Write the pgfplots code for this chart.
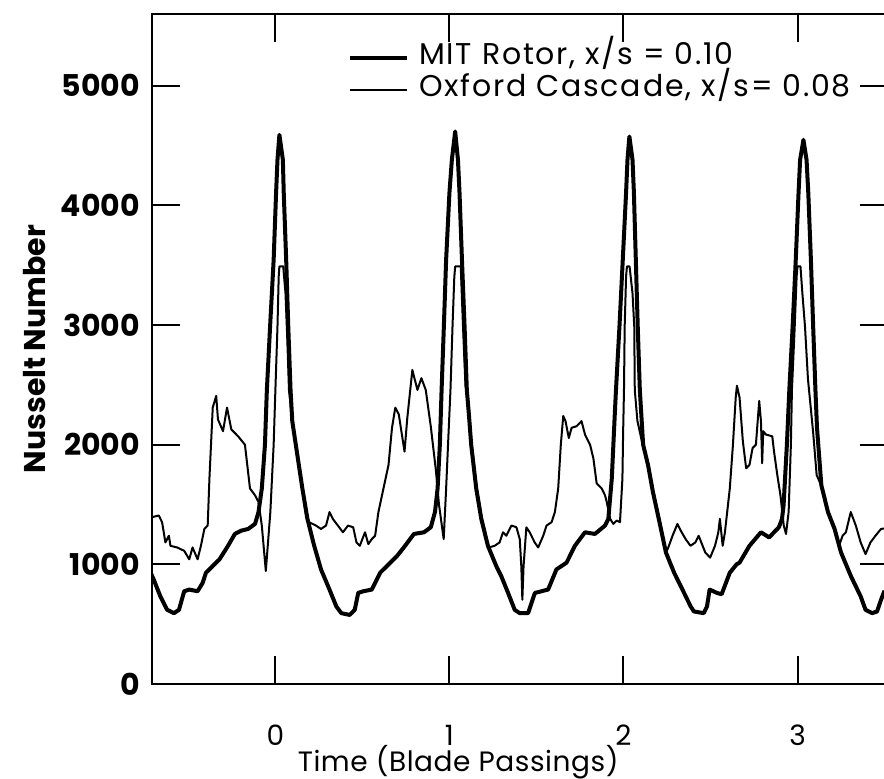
\documentclass[border=0pt]{standalone}
\usepackage{fontspec}
\setmainfont{Poppins}
\usepackage{pgfplots}
\pgfplotsset{compat=1.18}
\begin{document}
\begin{tikzpicture}
\begin{axis}[
  scale only axis, width=368bp, height=335bp,
  xmin=-0.709, xmax=3.52, ymin=0, ymax=5600,
  xtick={0,1,2,3}, xticklabels={0,1,2,3},
  ytick={0,1000,2000,3000,4000,5000}, yticklabels={0,1000,2000,3000,4000,5000},
  /pgf/number format/assume math mode=true,
  tick align=inside, major tick length=14bp,
  every tick/.style={black, line width=1bp},
  axis line style={line width=1.2bp},
  xticklabel shift=17bp, yticklabel shift=2.5bp,
  x tick label style={font=\fontsize{14bp}{16bp}\selectfont},
  y tick label style={font=\fontsize{15bp}{17bp}\selectfont\bfseries},
  xlabel={Time (Blade Passings)},
  every axis x label/.style={at={(axis description cs:0.416,0)}, anchor=base, yshift=-44bp,
     font=\fontsize{14bp}{16bp}\selectfont\addfontfeatures{LetterSpace=2}},
  ylabel={Nusselt Number},
  every axis y label/.style={at={(axis description cs:0,0.5)}, rotate=90, anchor=center, yshift=58.5bp,
     font=\fontsize{15bp}{17bp}\selectfont\bfseries},
  legend style={draw=none, fill=none, at={(axis description cs:0.266,0.959)}, anchor=north west,
     inner sep=0pt, column sep=5bp,
     font=\fontsize{15bp}{17bp}\selectfont\addfontfeatures{LetterSpace=6},
     nodes={inner sep=0pt, text height=11.5bp, text depth=4.5bp}},
  legend cell align=left,
  legend image code/.code={\draw[#1] (0bp,0bp) -- (28.5bp,0bp);},
]
\addplot[black, line width=2bp, line join=round] coordinates {
(-0.72,940)(-0.699,873)(-0.661,732)(-0.622,620)(-0.583,592)(-0.554,620)(-0.524,775)(-0.495,789)
(-0.447,775)(-0.418,845)(-0.399,930)(-0.360,986)(-0.321,1042)(-0.272,1155)(-0.233,1254)(-0.195,1282)
(-0.156,1296)(-0.117,1338)(-0.097,1437)(-0.078,1634)(-0.060,2000)(-0.049,2458)(-0.030,3000)(-0.010,3545)
(0.004,4105)(0.012,4381)(0.023,4590)(0.043,4381)(0.048,4105)(0.062,3545)(0.074,2988)(0.087,2458)
(0.097,2197)(0.126,1915)(0.155,1634)(0.184,1380)(0.223,1155)(0.262,958)(0.311,789)(0.350,648)
(0.379,592)(0.427,577)(0.456,620)(0.476,761)(0.505,775)(0.554,789)(0.602,930)(0.641,986)
(0.699,1070)(0.738,1141)(0.796,1254)(0.854,1268)(0.893,1310)(0.917,1437)(0.932,1634)(0.945,2000)
(0.955,2458)(0.968,2988)(0.981,3545)(1.000,4105)(1.014,4381)(1.033,4618)(1.049,4381)(1.058,4105)
(1.072,3545)(1.087,2988)(1.100,2458)(1.112,2250)(1.125,2000)(1.154,1634)(1.183,1380)(1.221,1155)
(1.269,986)(1.298,901)(1.337,761)(1.375,620)(1.404,592)(1.452,592)(1.491,761)(1.529,775)
(1.567,789)(1.615,958)(1.673,1014)(1.721,1155)(1.779,1268)(1.836,1254)(1.894,1324)(1.913,1380)
(1.933,1718)(1.950,2250)(1.957,2458)(1.977,2988)(1.996,3545)(2.015,4105)(2.023,4381)(2.034,4576)
(2.052,4381)(2.060,4105)(2.071,3545)(2.082,2988)(2.094,2458)(2.113,2000)(2.141,1831)(2.169,1606)
(2.207,1352)(2.244,1099)(2.291,930)(2.339,789)(2.386,648)(2.405,606)(2.461,592)(2.480,648)
(2.495,789)(2.517,775)(2.537,761)(2.564,750)(2.611,930)(2.650,1000)(2.667,1014)(2.724,1155)
(2.790,1268)(2.837,1225)(2.893,1310)(2.911,1380)(2.920,1493)(2.939,2000)(2.953,2458)(2.972,2988)
(2.990,3545)(3.006,4105)(3.015,4381)(3.034,4548)(3.052,4381)(3.062,4105)(3.077,3545)(3.090,2988)
(3.103,2458)(3.112,2141)(3.137,1662)(3.175,1437)(3.213,1296)(3.250,1099)(3.307,901)(3.363,732)
(3.391,620)(3.429,592)(3.457,606)(3.480,704)(3.50,780)
};
\addlegendentry{MIT Rotor, x/s = 0.10}
\addplot[black, line width=1bp, line join=round] coordinates {
(-0.72,1352)(-0.709,1394)(-0.670,1408)(-0.651,1352)(-0.632,1183)(-0.612,1239)(-0.603,1155)(-0.564,1141)
(-0.524,1113)(-0.495,1042)(-0.476,1141)(-0.447,1042)(-0.428,1155)(-0.408,1296)(-0.389,1324)(-0.379,1718)
(-0.360,2310)(-0.340,2408)(-0.330,2211)(-0.301,2113)(-0.278,2310)(-0.253,2127)(-0.214,2070)(-0.175,2000)
(-0.146,1634)(-0.117,1577)(-0.097,1521)(-0.078,1324)(-0.055,944)(-0.029,1437)(-0.010,2000)(0.000,2458)
(0.012,2988)(0.019,3406)(0.023,3490)(0.045,3490)(0.058,3266)(0.068,2900)(0.078,2458)(0.095,2230)
(0.126,1915)(0.155,1634)(0.175,1420)(0.194,1352)(0.233,1324)(0.262,1296)(0.291,1324)(0.311,1437)
(0.330,1380)(0.359,1324)(0.388,1268)(0.417,1324)(0.447,1310)(0.466,1183)(0.485,1155)(0.515,1268)
(0.534,1169)(0.554,1211)(0.573,1239)(0.592,1437)(0.621,1634)(0.650,1831)(0.670,2141)(0.689,2310)
(0.709,2254)(0.742,1942)(0.758,2225)(0.787,2625)(0.816,2458)(0.839,2556)(0.864,2458)(0.893,2151)
(0.922,1789)(0.940,1500)(0.967,1211)(0.980,1600)(0.995,2100)(1.006,2458)(1.018,3000)(1.028,3400)
(1.033,3490)(1.065,3490)(1.070,3300)(1.078,2988)(1.092,2500)(1.115,2250)(1.128,2000)(1.157,1640)
(1.186,1390)(1.226,1141)(1.260,1155)(1.288,1183)(1.308,1268)(1.327,1239)(1.356,1324)(1.385,1310)
(1.404,1211)(1.413,986)(1.419,704)(1.426,986)(1.442,1310)(1.461,1268)(1.490,1183)(1.510,1141)
(1.539,1239)(1.558,1324)(1.587,1352)(1.606,1437)(1.625,1634)(1.640,2000)(1.654,2240)(1.667,2197)
(1.686,2056)(1.702,2141)(1.731,2155)(1.759,2197)(1.779,2085)(1.808,2000)(1.827,1887)(1.846,1676)
(1.875,1634)(1.894,1577)(1.904,1521)(1.923,1380)(1.942,1338)(1.961,1366)(1.980,1352)(1.994,1718)
(1.998,2100)(2.003,2458)(2.007,2988)(2.015,3406)(2.020,3490)(2.035,3490)(2.052,3266)(2.062,2988)
(2.065,2458)(2.080,2200)(2.110,2000)(2.143,1840)(2.172,1610)(2.210,1355)(2.244,1110)(2.254,1127)
(2.282,1239)(2.310,1338)(2.329,1282)(2.357,1211)(2.385,1155)(2.413,1183)(2.432,1239)(2.451,1169)
(2.470,1099)(2.498,1056)(2.526,1155)(2.545,1268)(2.554,1380)(2.570,1155)(2.583,1268)(2.611,1634)
(2.629,2000)(2.645,2394)(2.652,2493)(2.667,2394)(2.686,2028)(2.705,1803)(2.724,1831)(2.742,1972)
(2.761,2000)(2.780,2366)(2.790,2197)(2.797,1845)(2.803,2113)(2.818,2085)(2.855,2070)(2.865,1944)
(2.884,1746)(2.902,1577)(2.921,1324)(2.934,1254)(2.949,1437)(2.962,2000)(2.968,2458)(2.984,2988)
(2.995,3406)(3.000,3490)(3.017,3490)(3.028,3266)(3.043,2988)(3.060,2550)(3.090,2100)(3.110,1746)
(3.130,1680)(3.175,1445)(3.213,1305)(3.240,1160)(3.259,1239)(3.278,1268)(3.306,1437)(3.335,1324)
(3.363,1183)(3.391,1085)(3.419,1183)(3.448,1239)(3.480,1296)(3.50,1300)
};
\addlegendentry{Oxford Cascade, x/s= 0.08}
\path (rel axis cs:0,0) ++(-76bp,-47.5bp) coordinate (bbsw);
\path (axis cs:3.497,5600) ++(0bp,7bp) coordinate (bbne);
\end{axis}
\pgfresetboundingbox
\path[use as bounding box] (bbsw) rectangle (bbne);
\end{tikzpicture}
\end{document}
